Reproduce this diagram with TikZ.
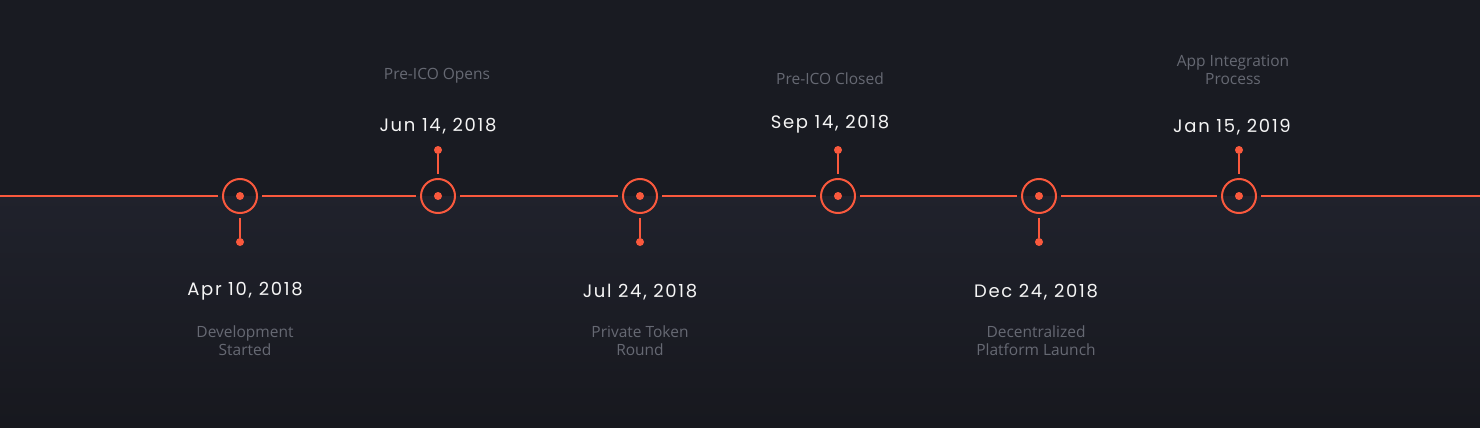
\documentclass[tikz,border=0pt]{standalone}
\usepackage{fontspec}
\setmainfont{Open Sans}
\newfontfamily\datefont[LetterSpace=9.5]{Poppins}
\usetikzlibrary{positioning}
\definecolor{nightbg}{rgb}{0.098,0.106,0.133}
\definecolor{lowerbg}{rgb}{0.125,0.133,0.172}
\definecolor{bottombg}{rgb}{0.090,0.094,0.118}
\definecolor{tomato}{rgb}{0.98,0.35,0.24}
\definecolor{greytext}{rgb}{0.40,0.41,0.45}
\definecolor{datewhite}{rgb}{0.96,0.96,0.96}
\tikzset{
  milestone/.style={
    circle,
    draw=tomato,
    line width=2pt,
    minimum size=34pt,
    inner sep=0pt,
    outer sep=5pt,
    path picture={\fill[tomato] (path picture bounding box.center) circle (4pt);}
  },
  pin/.style={
    circle,
    fill=tomato,
    minimum size=8pt,
    inner sep=0pt,
    outer sep=0pt
  },
  track/.style={
    line width=2pt,
    tomato
  },
  datelabel/.style={
    anchor=base,
    text=datewhite,
    inner sep=0pt,
    font=\datefont\fontsize{18}{20}\selectfont
  },
  eventlabel/.style={
    align=center,
    text=greytext,
    inner sep=0pt,
    font=\fontsize{15.5}{18}\selectfont
  }
}

\begin{document}
\begin{tikzpicture}[x=1pt,y=-1pt]
\useasboundingbox (0,0) rectangle (1480,428);
\fill[nightbg] (0,0) rectangle (1480,196);
\shade[top color=lowerbg,bottom color=bottombg] (0,196) rectangle (1480,428);

\coordinate (west) at (0,196);
\coordinate (east) at (1480,196);
\node[milestone] (m1) at (240,196) {};
\node[milestone] (m2) at (438,196) {};
\node[milestone] (m3) at (640,196) {};
\node[milestone] (m4) at (838,196) {};
\node[milestone] (m5) at (1039,196) {};
\node[milestone] (m6) at (1239,196) {};
\draw[track] (west) -- (m1) -- (m2) -- (m3) -- (m4) -- (m5) -- (m6) -- (east);

\node[pin,below=20pt of m1] (p1) {};
\node[pin,above=20pt of m2] (p2) {};
\node[pin,below=20pt of m3] (p3) {};
\node[pin,above=20pt of m4] (p4) {};
\node[pin,below=20pt of m5] (p5) {};
\node[pin,above=20pt of m6] (p6) {};
\draw[track] (m1) -- (p1);
\draw[track] (m2) -- (p2);
\draw[track] (m3) -- (p3);
\draw[track] (m4) -- (p4);
\draw[track] (m5) -- (p5);
\draw[track] (m6) -- (p6);

% fechas
\node[datelabel] (d1) at (245,295) {Apr 10, 2018};
\node[datelabel] (d2) at (438,131) {Jun 14, 2018};
\node[datelabel] (d3) at (640,297) {Jul 24, 2018};
\node[datelabel] (d4) at (830,128) {Sep 14, 2018};
\node[datelabel] (d5) at (1036,297) {Dec 24, 2018};
\node[datelabel] (d6) at (1232,132) {Jan 15, 2019};

% eventos
\node[eventlabel] (e1) at (245,341) {Development\\Started};
\node[eventlabel] (e2) at (437,76) {Pre-ICO Opens};
\node[eventlabel] (e3) at (640,341) {Private Token\\Round};
\node[eventlabel] (e4) at (830,79) {Pre-ICO Closed};
\node[eventlabel] (e5) at (1036,341) {Decentralized\\Platform Launch};
\node[eventlabel] (e6) at (1233,70) {App Integration\\Process};
\end{tikzpicture}
\end{document}
